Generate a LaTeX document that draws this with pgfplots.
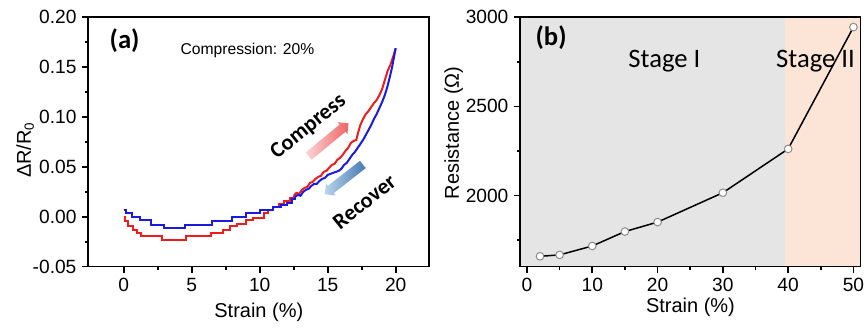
\documentclass[border=0pt]{standalone}
\usepackage{fontspec}
\setmainfont{Liberation Sans}
\newfontfamily\calibri{Carlito}
\usepackage{pgfplots}
\pgfplotsset{compat=1.18}
\usetikzlibrary{shapes.arrows}
\definecolor{bggray}{HTML}{E5E5E5}
\definecolor{bgpeach}{HTML}{FCE4D6}
\definecolor{cred}{HTML}{EE1C1C}
\definecolor{cblue}{HTML}{1A1AE0}
\pgfplotsset{
  common/.style={
    scale only axis,
    anchor=north west,
    height=149.6pt,
    tick align=outside,
    tick pos=left,
    axis line style={line width=1pt},
    every tick/.style={black, line width=1pt},
    major tick length=3.6pt,
    minor tick length=2pt,
    ticklabel style={font=\fontsize{11.5}{13}\selectfont},
    /pgf/number format/assume math mode=true,
    /pgf/number format/1000 sep={},
    label style={font=\fontsize{12}{14}\selectfont},
  }
}
\begin{document}
\begin{tikzpicture}
\useasboundingbox (0,0) rectangle (519.6pt,-199.2pt);
% ---------------- (a) ----------------
\begin{axis}[common,
  at={(52.98pt,-10.38pt)}, width=204.6pt,
  xmin=-2.6, xmax=22.47, ymin=-0.05, ymax=0.20,
  xtick={0,5,10,15,20}, minor x tick num=1,
  ytick={-0.05,0,0.05,0.10,0.15,0.20}, minor y tick num=1,
  yticklabel style={/pgf/number format/.cd, fixed, fixed zerofill, precision=2},
  xlabel={Strain (\%)},
  ylabel={ΔR/R\textsubscript{0}},
  xlabel style={at={(axis description cs:0.5,-0.184)}, anchor=center},
  ylabel style={at={(axis description cs:-0.185,0.468)}, anchor=center},
]
% compress (red): stepped low part, finely jagged rising part
\addplot[cred, line width=1.2pt, const plot] coordinates {
(0,0.000) (0.1,-0.004) (0.3,-0.009) (0.7,-0.013) (1.0,-0.016) (1.3,-0.019)
(2.8,-0.023) (4.6,-0.019) (6.4,-0.016) (7.3,-0.013) (7.8,-0.009) (8.3,-0.007)
(9.0,-0.003) (9.5,-0.001) (10.3,0.004) (10.6,0.007) (11.0,0.010) (11.4,0.013)
(11.8,0.016) (12.2,0.019) (12.5,0.021)
};
\addplot[cred, line width=1.2pt] coordinates {
(12.5,0.021) (12.7,0.024) (12.9,0.023) (13.1,0.027) (13.3,0.029) (13.5,0.030)
(13.7,0.034) (13.9,0.035) (14.1,0.038) (14.3,0.040) (14.5,0.041) (14.7,0.045)
(14.9,0.046) (15.1,0.049) (15.3,0.052) (15.5,0.053) (15.7,0.057) (15.9,0.059)
(16.1,0.062) (16.3,0.066) (16.5,0.069) (16.7,0.074) (16.9,0.076) (17.1,0.077)
(17.25,0.085) (17.4,0.092) (17.6,0.098) (17.8,0.103) (18.0,0.106) (18.2,0.110)
(18.4,0.114) (18.6,0.117) (18.8,0.122) (19.0,0.128) (19.2,0.137) (19.4,0.146)
(19.6,0.152) (19.8,0.160) (20.0,0.169)
};
% recover (blue)
\addplot[cblue, line width=1.2pt, const plot] coordinates {
(0,0.007) (0.2,0.004) (0.6,0.000) (1.2,-0.003) (2.0,-0.008) (3.0,-0.011)
(4.5,-0.008) (6.5,-0.004) (8.0,0.000) (9.0,0.004) (10.0,0.007) (11.0,0.010)
(11.6,0.012) (12.0,0.014) (12.4,0.018) (12.6,0.020)
};
\addplot[cblue, line width=1.2pt] coordinates {
(12.6,0.020) (12.8,0.022) (13.0,0.021) (13.2,0.025) (13.4,0.027) (13.6,0.028)
(13.8,0.031) (14.0,0.033) (14.2,0.033) (14.4,0.036) (14.6,0.038) (14.8,0.039)
(15.0,0.042) (15.2,0.043) (15.4,0.044) (15.6,0.045) (15.8,0.046) (16.0,0.048)
(16.2,0.052) (16.4,0.054) (16.6,0.058) (16.8,0.062) (17.0,0.065) (17.2,0.069)
(17.4,0.073) (17.6,0.077) (17.8,0.082) (18.0,0.087) (18.2,0.092) (18.4,0.098)
(18.6,0.103) (18.8,0.109) (19.0,0.115) (19.2,0.122) (19.4,0.131) (19.6,0.142)
(19.75,0.151) (19.9,0.162) (20.0,0.169)
};
\node[font=\calibri\bfseries\fontsize{16}{18}\selectfont] at (axis cs:0.07,0.177) {(a)};
\node[font=\fontsize{9.4}{11}\selectfont] at (axis cs:9.1,0.167) {Compression: 20\%};
\node[font=\calibri\bfseries\fontsize{13.3}{15}\selectfont, rotate=39] at (axis cs:13.6,0.090) {Compress};
\node[font=\calibri\bfseries\fontsize{13.3}{15}\selectfont, rotate=38.7] at (axis cs:17.7,0.015) {Recover};
\node[single arrow, draw=none, rotate=39.5, minimum height=31pt, inner xsep=0pt, inner ysep=2.6pt,
  single arrow head extend=1.8pt, shading=axis, left color={rgb,255:red,252;green,214;blue,214},
  right color={rgb,255:red,240;green,100;blue,100}] at (axis cs:14.93,0.0758) {};
\node[single arrow, draw=none, rotate=218, minimum height=29pt, inner xsep=0pt, inner ysep=2.6pt,
  single arrow head extend=1.8pt, shading=axis, left color={rgb,255:red,185;green,212;blue,236},
  right color={rgb,255:red,70;green,122;blue,178}] at (axis cs:16.32,0.039) {};
\end{axis}
% ---------------- (b) ----------------
\begin{axis}[common,
  at={(312.18pt,-10.38pt)}, width=204.2pt,
  axis on top,
  xmin=-1.02, xmax=51.1, ymin=1600, ymax=3000,
  xtick={0,10,20,30,40,50}, minor x tick num=1,
  ytick={2000,2500,3000}, minor ytick={1750,2250,2750},
  xlabel={Strain (\%)},
  ylabel={Resistance (Ω)},
  xlabel style={at={(axis description cs:0.5,-0.164)}, anchor=center},
  ylabel style={at={(axis description cs:-0.196,0.536)}, anchor=center},
]
\addplot[draw=none, fill=bggray] coordinates {(-1.02,1600) (39.5,1600) (39.5,3000) (-1.02,3000)} -- cycle;
\addplot[draw=none, fill=bgpeach] coordinates {(39.5,1600) (51.1,1600) (51.1,3000) (39.5,3000)} -- cycle;
\addplot[black, line width=0.9pt, mark=*, mark size=2.3pt,
  mark options={fill=white, draw=black!45, line width=0.6pt}] coordinates {
(2,1658) (5,1666) (10,1716) (15,1797) (20,1850) (30,2015) (40,2261) (50,2945)
};
\node[font=\calibri\fontsize{16}{18}\selectfont] at (axis cs:21.05,2754) {Stage I};
\node[font=\calibri\fontsize{16}{18}\selectfont] at (axis cs:44.2,2754) {Stage II};
\node[font=\calibri\bfseries\fontsize{16}{18}\selectfont] at (axis cs:3.7,2886) {(b)};
\end{axis}
\end{tikzpicture}
\end{document}
